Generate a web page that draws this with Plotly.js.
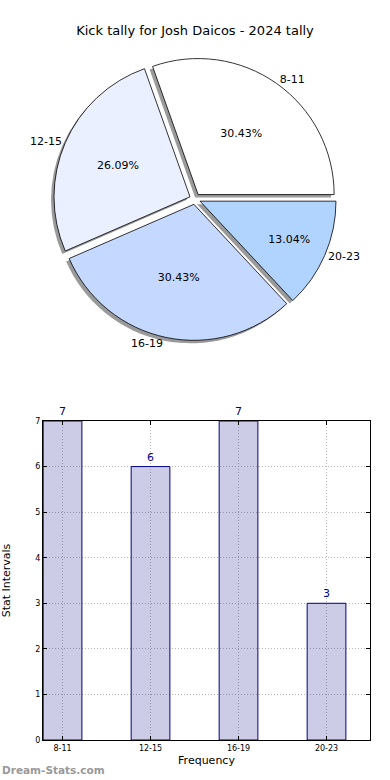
<!DOCTYPE html>
<html>
<head>
<meta charset="utf-8">
<script src="https://cdn.plot.ly/plotly-3.0.1.min.js"></script>
<style>html,body{margin:0;padding:0;background:#fff}#chart{width:390px;height:780px}</style>
</head>
<body>
<div id="chart"></div>
<script>
const categories = ["8-11", "12-15", "16-19", "20-23"];
const counts = [7, 6, 7, 3];
const sliceColors = ["#ffffff", "#eaf0ff", "#c5d8ff", "#b1d4ff"];
const yTicks = [0, 1, 2, 3, 4, 5, 6, 7];
const titleText = "Kick tally for Josh Daicos - 2024 tally";

const W = 390, H = 780;
const cx = 195, cy = 199, pr = 136, pull = 0.04;
const R = pr * (1 + pull);
function dom(dx, dy) {
  return {
    x: [(cx - R + dx) / W, (cx + R + dx) / W],
    y: [(H - cy - R - dy) / H, (H - cy + R - dy) / H]
  };
}
const total = counts.reduce((a, b) => a + b, 0);
// first slice starts at 3 o'clock and runs counterclockwise
const rot = 90 - 360 * counts[0] / total;
const pulls = categories.map(() => pull);
const font = "DejaVu Sans, sans-serif";

const shadow = {
  type: "pie", labels: categories, values: counts, sort: false,
  direction: "counterclockwise", rotation: rot, pull: pulls,
  domain: dom(-3, 3), textinfo: "none", hoverinfo: "skip", showlegend: false,
  marker: { colors: categories.map(() => "rgba(120,120,120,0.75)"), line: { width: 0 } }
};
const main = {
  type: "pie", labels: categories, values: counts, sort: false,
  direction: "counterclockwise", rotation: rot, pull: pulls,
  domain: dom(0, 0), textposition: "inside", insidetextorientation: "horizontal",
  texttemplate: "%{percent:.2%}", showlegend: false,
  textfont: { family: font, size: 11, color: "#000" },
  marker: { colors: sliceColors, line: { color: "#000", width: 0.8 } }
};
const labelsPie = {
  type: "pie", labels: categories, values: counts, sort: false,
  direction: "counterclockwise", rotation: rot, pull: pulls,
  domain: dom(0, 0), textposition: "outside", textinfo: "label", showlegend: false,
  hoverinfo: "skip", automargin: false,
  outsidetextfont: { family: font, size: 11, color: "#000" },
  marker: { colors: categories.map(() => "rgba(0,0,0,0)"), line: { width: 0 } }
};
const bars = {
  type: "bar", x: [0, 1, 2, 3], y: counts, width: 0.44,
  marker: { color: "rgba(0,0,130,0.2)", line: { color: "#00008b", width: 1 } },
  text: counts.map(String), textposition: "outside", cliponaxis: false,
  textfont: { family: font, size: 11, color: "#00008b" },
  xaxis: "x", yaxis: "y", showlegend: false
};

const layout = {
  width: W, height: H, paper_bgcolor: "#fff", plot_bgcolor: "#fff",
  margin: { l: 0, r: 0, t: 0, b: 0 },
  font: { family: font, color: "#000" },
  title: { text: titleText, x: 0.5, xanchor: "center", y: 1 - 30 / H, yanchor: "middle",
           font: { family: font, size: 13, color: "#000" } },
  xaxis: {
    domain: [43 / W, 370 / W], range: [-0.222, 3.494],
    tickmode: "array", tickvals: [0, 1, 2, 3], ticktext: categories,
    ticks: "inside", ticklen: 4, tickcolor: "#000",
    showline: true, linecolor: "#000", linewidth: 1, mirror: "ticks",
    showgrid: true, gridcolor: "#b8b8b8", griddash: "1px,2px", gridwidth: 1,
    zeroline: false, tickfont: { family: font, size: 8, color: "#000" },
    title: { text: "Frequency", font: { family: font, size: 11, color: "#000" }, standoff: 4 }
  },
  yaxis: {
    domain: [(H - 740) / H, (H - 421) / H], range: [0, 7],
    tickmode: "array", tickvals: yTicks,
    ticks: "inside", ticklen: 4, tickcolor: "#000",
    showline: true, linecolor: "#000", linewidth: 1, mirror: "ticks",
    showgrid: true, gridcolor: "#b8b8b8", griddash: "1px,2px", gridwidth: 1,
    zeroline: false, tickfont: { family: font, size: 8, color: "#000" },
    title: { text: "Stat Intervals", font: { family: font, size: 11, color: "#000" }, standoff: 26 }
  },
  annotations: [{
    text: "<b>Dream-Stats.com</b>", xref: "paper", yref: "paper",
    x: 0, y: 10 / H, xanchor: "left", yanchor: "middle", showarrow: false,
    font: { family: "DejaVu Sans, sans-serif", size: 10.5, color: "#999" }
  }]
};

Plotly.newPlot("chart", [shadow, main, labelsPie, bars], layout, { displayModeBar: false, staticPlot: true });
</script>
</body>
</html>
